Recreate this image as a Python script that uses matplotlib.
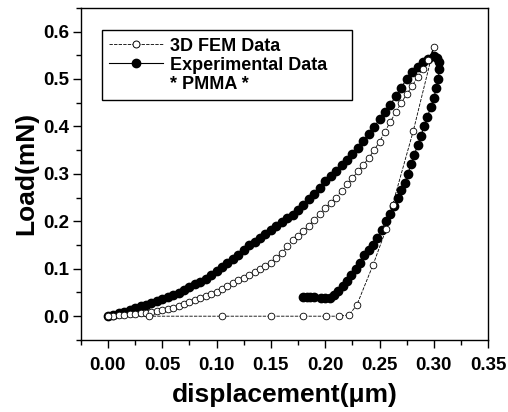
import numpy as np
import matplotlib
matplotlib.use("Agg")
import matplotlib.pyplot as plt
from matplotlib.lines import Line2D
from matplotlib.ticker import MultipleLocator, FormatStrFormatter

plt.rcParams['font.family'] = ['Liberation Sans', 'DejaVu Sans']
plt.rcParams['font.weight'] = 'bold'

# experimental data, loading part (displacement um, load mN)
exp_load_x = [0.000, 0.005, 0.010, 0.015, 0.020, 0.025, 0.030, 0.035, 0.040, 0.045,
              0.050, 0.055, 0.060, 0.065, 0.070, 0.075, 0.080, 0.085, 0.090, 0.095,
              0.100, 0.105, 0.110, 0.115, 0.120, 0.125, 0.130, 0.135, 0.140, 0.145,
              0.150, 0.155, 0.160, 0.165, 0.170, 0.175, 0.180, 0.185, 0.190, 0.195,
              0.200, 0.205, 0.210, 0.215, 0.220, 0.225, 0.230, 0.235, 0.240, 0.245,
              0.250, 0.255, 0.260, 0.265, 0.270, 0.275, 0.280, 0.285, 0.290, 0.295,
              0.300]
exp_load_y = [0.000, 0.003, 0.006, 0.009, 0.013, 0.017, 0.021, 0.024, 0.028, 0.032,
              0.036, 0.040, 0.045, 0.049, 0.055, 0.062, 0.068, 0.073, 0.079, 0.087,
              0.095, 0.103, 0.112, 0.121, 0.130, 0.140, 0.150, 0.157, 0.165, 0.173,
              0.181, 0.190, 0.198, 0.206, 0.214, 0.224, 0.235, 0.246, 0.258, 0.271,
              0.285, 0.295, 0.306, 0.318, 0.330, 0.342, 0.355, 0.369, 0.384, 0.399,
              0.415, 0.430, 0.446, 0.464, 0.482, 0.500, 0.515, 0.526, 0.535, 0.542,
              0.548]
# experimental data, unloading part
exp_unl_x = [0.303, 0.305, 0.305, 0.304, 0.302, 0.300, 0.297, 0.294, 0.291, 0.288,
             0.285, 0.282, 0.279, 0.276, 0.273, 0.270, 0.267, 0.263, 0.260, 0.256,
             0.252, 0.248, 0.244, 0.240, 0.236, 0.232, 0.228, 0.224, 0.220, 0.216,
             0.212, 0.208, 0.204, 0.200, 0.196, 0.190, 0.186, 0.183, 0.180]
exp_unl_y = [0.545, 0.535, 0.520, 0.500, 0.480, 0.460, 0.440, 0.420, 0.400, 0.380,
             0.360, 0.340, 0.320, 0.300, 0.280, 0.265, 0.250, 0.232, 0.215, 0.200,
             0.182, 0.165, 0.150, 0.140, 0.128, 0.113, 0.100, 0.087, 0.075, 0.064,
             0.054, 0.045, 0.039, 0.038, 0.039, 0.040, 0.040, 0.040, 0.040]

# 3D FEM data, loading part
fem_load_x = exp_load_x
fem_load_y = [0.000, 0.001, 0.002, 0.003, 0.004, 0.005, 0.006, 0.007, 0.008, 0.010,
              0.012, 0.015, 0.018, 0.022, 0.026, 0.030, 0.034, 0.038, 0.043, 0.047,
              0.052, 0.057, 0.063, 0.069, 0.076, 0.081, 0.087, 0.093, 0.099, 0.105,
              0.112, 0.122, 0.134, 0.147, 0.160, 0.170, 0.180, 0.191, 0.203, 0.215,
              0.228, 0.239, 0.250, 0.264, 0.278, 0.291, 0.305, 0.319, 0.333, 0.350,
              0.368, 0.389, 0.410, 0.430, 0.450, 0.468, 0.485, 0.505, 0.522, 0.540,
              0.567]
# 3D FEM data, unloading part
fem_unl_x = [0.281, 0.262, 0.256, 0.244, 0.229, 0.222, 0.213, 0.201, 0.180, 0.150,
             0.105, 0.038, 0.000]
fem_unl_y = [0.390, 0.235, 0.183, 0.108, 0.023, 0.003, 0.000, 0.000, 0.000, 0.000,
             0.000, 0.000, 0.000]

exp_x = exp_load_x + exp_unl_x
exp_y = exp_load_y + exp_unl_y
fem_x = fem_load_x + fem_unl_x
fem_y = fem_load_y + fem_unl_y

fig = plt.figure(figsize=(5.08, 4.12), dpi=100)
ax = fig.add_axes([0.159, 0.175, 0.802, 0.806])

ax.plot(exp_x, exp_y, color='black', lw=0.8, marker='o', ms=6,
        mfc='black', mec='black', zorder=2)
ax.plot(fem_x, fem_y, color='black', lw=0.6, ls=(0, (4, 1.5)), marker='o', ms=4.8,
        mfc='white', mec='black', mew=0.6, zorder=3)

ax.set_xlim(-0.025, 0.35)
ax.set_ylim(-0.05, 0.65)
ax.xaxis.set_minor_locator(MultipleLocator(0.025))
ax.yaxis.set_minor_locator(MultipleLocator(0.05))
ax.set_xticks(np.arange(0, 0.351, 0.05))
ax.set_yticks(np.arange(0, 0.61, 0.1))
ax.xaxis.set_major_formatter(FormatStrFormatter('%.2f'))
ax.yaxis.set_major_formatter(FormatStrFormatter('%.1f'))
ax.tick_params(which='major', direction='out', length=6, width=1, labelsize=13.5)
ax.tick_params(which='minor', direction='out', length=3.5, width=1)
ax.tick_params(axis='y', which='major', pad=2)
ax.tick_params(axis='x', which='major', pad=6)
for lab in ax.get_xticklabels() + ax.get_yticklabels():
    lab.set_fontweight('bold')
for sp in ax.spines.values():
    sp.set_linewidth(1)

ax.set_xlabel('displacement(\u03bcm)', fontsize=19, fontweight='bold', labelpad=7)
ax.set_ylabel('Load(mN)', fontsize=19, fontweight='bold', labelpad=4)

handles = [
    Line2D([], [], color='black', lw=0.6, ls=(0, (4, 1.5)), marker='o', ms=5,
           mfc='white', mec='black', mew=0.7),
    Line2D([], [], color='black', lw=0.8, marker='o', ms=6, mfc='black', mec='black'),
    Line2D([], [], ls='none', marker=None),
]
labels = ['3D FEM Data', 'Experimental Data', '* PMMA *']
leg = ax.legend(handles, labels, loc='upper left',
                bbox_to_anchor=(0.052, 0.922, 0.614, 0.01), mode='expand',
                fontsize=13, frameon=True, fancybox=False, framealpha=1,
                edgecolor='black', borderpad=0.4, labelspacing=0.12,
                handlelength=3.0, handletextpad=0.35, borderaxespad=0)
leg.get_frame().set_linewidth(1)
for t in leg.get_texts():
    t.set_fontweight('bold')

fig.savefig('out.png', dpi=100)
